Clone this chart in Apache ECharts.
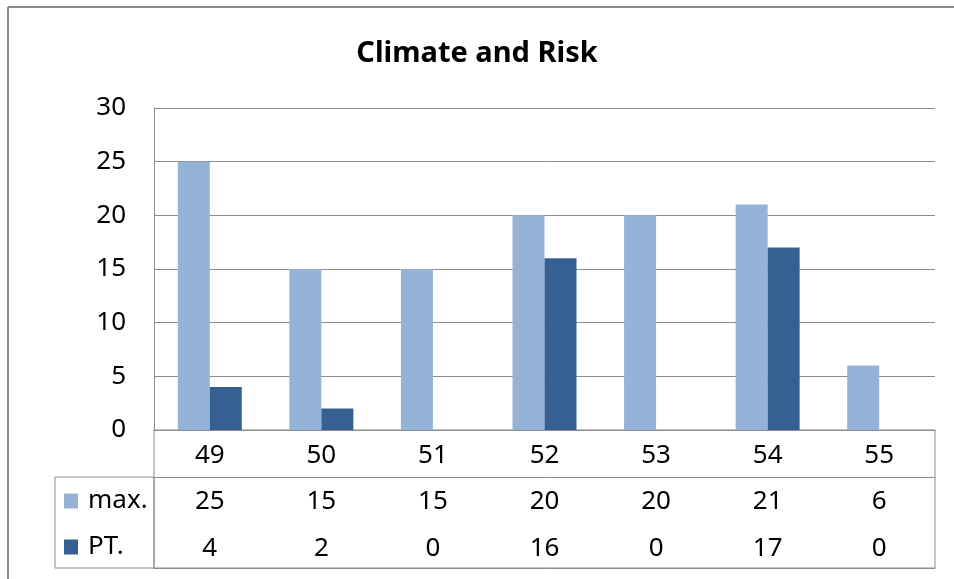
<!DOCTYPE html>
<html><head><meta charset="utf-8">
<script src="https://cdn.jsdelivr.net/npm/echarts@6/dist/echarts.min.js"></script>
<style>html,body{margin:0;padding:0;background:#fff}#c{width:954px;height:579px}</style>
</head><body><div id="c"></div>
<script>
const categories = ['49','50','51','52','53','54','55'];
const maxValues = [25, 15, 15, 20, 20, 21, 6];
const ptValues = [4, 2, 0, 16, 0, 17, 0];
const yTicks = {min: 0, max: 30, interval: 5};
const seriesNames = ['max.', 'PT.'];

const FONT = 'Noto Sans';
const LINE = '#8c8c8c';
const FS = 26;
const chart = echarts.init(document.getElementById('c'));
chart.setOption({
  backgroundColor: '#fff',
  animation: false,
  title: {text: 'Climate and Risk', left: 'center', top: 34,
    textStyle: {fontFamily: FONT, fontSize: 29, fontWeight: 'bold', color: '#000'}},
  legend: {orient: 'vertical', left: 59, top: 483, itemWidth: 14, itemHeight: 15, itemGap: 20,
    icon: 'rect', data: seriesNames,
    textStyle: {fontFamily: FONT, fontSize: FS, color: '#000', padding: [0,0,0,5]}},
  grid: {left: 154, right: 19, top: 108, bottom: 149},
  xAxis: [
    {type: 'category', data: categories, position: 'bottom',
     axisLine: {show: true, lineStyle: {color: LINE, width: 1}},
     axisTick: {show: false},
     axisLabel: {margin: 13, fontFamily: FONT, fontSize: FS, color: '#000'}},
    {type: 'category', data: maxValues.map(String), position: 'bottom', offset: 47,
     axisLine: {show: true, lineStyle: {color: LINE, width: 1}},
     axisTick: {show: false},
     axisLabel: {margin: 12, fontFamily: FONT, fontSize: FS, color: '#000'}},
    {type: 'category', data: ptValues.map(String), position: 'bottom', offset: 138,
     axisLine: {show: true, lineStyle: {color: LINE, width: 1}},
     axisTick: {show: false},
     axisLabel: {inside: true, margin: 6, fontFamily: FONT, fontSize: FS, color: '#000'}}
  ],
  yAxis: {type: 'value', min: yTicks.min, max: yTicks.max, interval: yTicks.interval,
    axisLine: {show: true, lineStyle: {color: LINE}},
    axisTick: {show: false},
    splitLine: {show: true, lineStyle: {color: LINE, width: 1}},
    axisLabel: {margin: 28, fontFamily: FONT, fontSize: FS, color: '#000'}},
  series: [
    {name: seriesNames[0], type: 'bar', data: maxValues, barWidth: 32, barGap: '0%',
     itemStyle: {color: '#95B3D7'}},
    {name: seriesNames[1], type: 'bar', data: ptValues, barWidth: 32, barGap: '0%',
     itemStyle: {color: '#366092'}}
  ],
  graphic: [
    {type: 'rect', shape: {x: 55, y: 477, width: 99, height: 91}, style: {fill: 'none', stroke: LINE, lineWidth: 1}, silent: true},
    {type: 'rect', shape: {x: 154, y: 430, width: 781, height: 138}, style: {fill: 'none', stroke: LINE, lineWidth: 1}, silent: true},
    {type: 'line', shape: {x1: 8, y1: 7, x2: 954, y2: 7}, style: {stroke: '#8a8a8a', lineWidth: 2}, silent: true},
    {type: 'line', shape: {x1: 8, y1: 7, x2: 8, y2: 579}, style: {stroke: '#8a8a8a', lineWidth: 2}, silent: true}
  ]
});
</script></body></html>
